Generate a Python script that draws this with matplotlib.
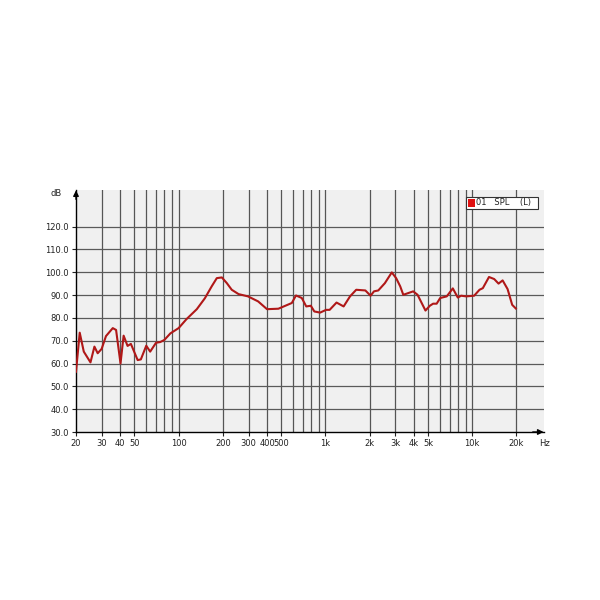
import matplotlib
matplotlib.use("Agg")
import matplotlib.pyplot as plt
from matplotlib.patches import Rectangle

# Frequency response data (Hz, dB SPL)
freq_hz = [20, 21.2, 22.6, 25.1, 26.7, 28.1, 29.9, 32.0, 35.6, 37.5, 40.2, 42.2, 44.9,
           47.3, 52.6, 55.3, 60.2, 64.0, 70.2, 74.9, 79.9, 87.9, 100, 113, 133, 151,
           168, 182, 197, 213, 230, 256, 297, 348, 400, 478, 590, 630, 690, 740, 795,
           840, 920, 1010, 1068, 1190, 1330, 1470, 1620, 1870, 2030, 2140, 2290, 2540,
           2830, 3030, 3230, 3390, 3960, 4240, 4800, 5140, 5410, 5720, 6050, 6700,
           7370, 7970, 8400, 9100, 10300, 11200, 11800, 13000, 14100, 15100, 16100,
           17400, 18700, 19800]
spl_db = [56.4, 73.5, 65.2, 60.5, 67.4, 64.5, 66.4, 72.0, 75.5, 74.7, 60.0, 72.2, 67.7,
          68.6, 61.5, 61.8, 67.8, 65.2, 69.1, 69.4, 70.3, 73.2, 75.5, 79.4, 83.8, 88.6,
          93.8, 97.4, 97.7, 95.2, 92.3, 90.4, 89.4, 87.2, 83.8, 84.0, 86.5, 89.8, 88.7,
          85.0, 85.3, 82.8, 82.3, 83.5, 83.5, 86.7, 85.0, 89.4, 92.3, 92.0, 89.7, 91.6,
          92.0, 95.2, 99.9, 97.4, 93.8, 90.1, 91.6, 90.1, 83.2, 85.3, 86.2, 86.2, 88.7,
          89.4, 92.9, 88.9, 89.7, 89.4, 89.7, 92.3, 93.0, 97.9, 97.0, 95.0, 96.4, 92.6,
          85.7, 84.1]

x_tick_vals = [20, 30, 40, 50, 100, 200, 300, 400, 500, 1000, 2000, 3000, 4000, 5000, 10000, 20000]
x_tick_labels = ["20", "30", "40", "50", "100", "200", "300", "400", "500", "1k", "2k", "3k", "4k", "5k", "10k", "20k"]
y_tick_vals = [30, 40, 50, 60, 70, 80, 90, 100, 110, 120]
y_tick_labels = ["30.0", "40.0", "50.0", "60.0", "70.0", "80.0", "90.0", "100.0", "110.0", "120.0"]
grid_freqs = [30, 40, 50, 60, 70, 80, 90, 100, 200, 300, 400, 500, 600, 700, 800, 900,
              1000, 2000, 3000, 4000, 5000, 6000, 7000, 8000, 9000, 10000, 20000]
legend_text = "01   SPL    (L)"

fig = plt.figure(figsize=(6, 6), dpi=100)
fig.patch.set_facecolor("white")
ax = fig.add_axes([76/600, 1-432/600, 468/600, 242/600])
ax.set_facecolor("#f0f0f0")
ax.set_xscale("log")
ax.set_xlim(20, 30800)
ax.set_ylim(30, 136)

for f in grid_freqs:
    ax.axvline(f, color="#555555", lw=0.9, zorder=1)
for y in y_tick_vals[1:]:
    ax.axhline(y, color="#5a5a5a", lw=0.9, zorder=1)

ax.plot(freq_hz, spl_db, color="#b01818", lw=1.5, zorder=3)

for s in ["top", "right"]:
    ax.spines[s].set_visible(False)
for s in ["left", "bottom"]:
    ax.spines[s].set_color("black")
    ax.spines[s].set_linewidth(1.0)

ax.set_xticks(x_tick_vals)
ax.set_xticklabels(x_tick_labels)
ax.xaxis.set_minor_locator(matplotlib.ticker.NullLocator())
ax.set_yticks(y_tick_vals)
ax.set_yticklabels(y_tick_labels)
ax.tick_params(axis="both", labelsize=6, colors="#222222", length=3, width=0.8, pad=2)

# axis arrows
ax.annotate("", xy=(1.005, 0), xytext=(0.97, 0), xycoords="axes fraction",
            arrowprops=dict(arrowstyle="-|>", color="black", lw=1.0, mutation_scale=8))
ax.annotate("", xy=(0, 1.01), xytext=(0, 0.95), xycoords="axes fraction",
            arrowprops=dict(arrowstyle="-|>", color="black", lw=1.0, mutation_scale=8))
ax.text(-0.03, 0.985, "dB", transform=ax.transAxes, ha="right", va="center", fontsize=6, color="#222222")
ax.text(1.0, -0.03, "Hz", transform=ax.transAxes, ha="center", va="top", fontsize=6, color="#222222")

# legend box
lx0, ly0 = (466-76)/468, (432-209)/242
lw_, lh_ = 72/468, 12/242
ax.add_patch(Rectangle((lx0, ly0), lw_, lh_, transform=ax.transAxes, facecolor="white",
                       edgecolor="#333333", lw=0.8, zorder=5))
ax.add_patch(Rectangle((lx0+0.004, ly0+0.008), 7/468, 8.5/242, transform=ax.transAxes,
                       facecolor="#e01010", edgecolor="none", zorder=6))
ax.text(lx0+0.022, ly0+lh_/2, legend_text, transform=ax.transAxes, fontsize=6,
        va="center", ha="left", color="#222222", zorder=6)

fig.savefig("out.png", dpi=100, facecolor="white")
